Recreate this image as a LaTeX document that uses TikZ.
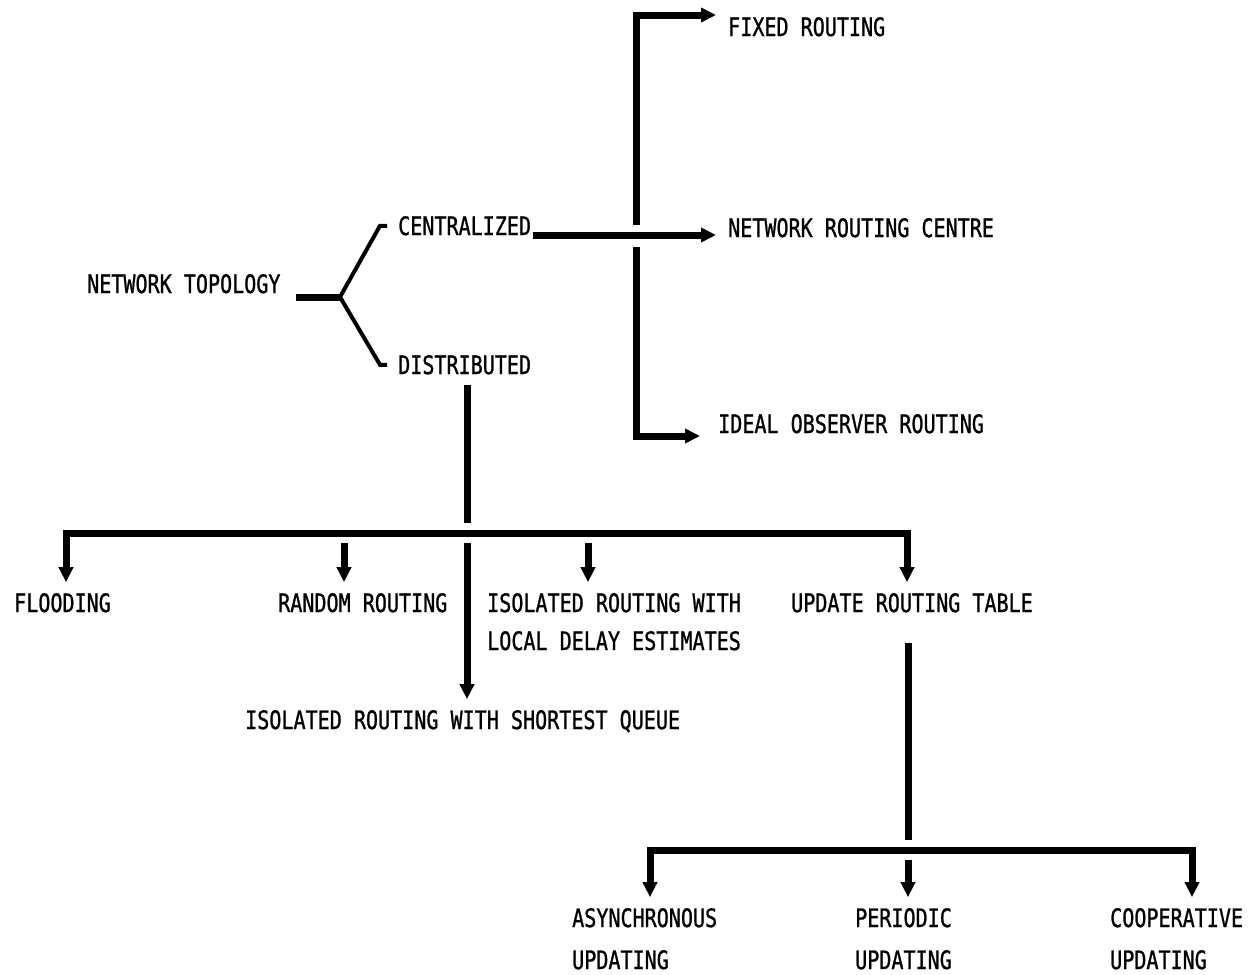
\documentclass[tikz,border=0pt]{standalone}
\usepackage{fontspec}
\newfontfamily\lblfont[FakeStretch=0.79,FakeBold=1]{DejaVu Sans Mono}
\usetikzlibrary{arrows.meta}

\begin{document}
\begin{tikzpicture}[x=1pt,y=-1pt]
  \tikzstyle{lab}=[font=\lblfont\fontsize{25.4}{38}\selectfont,inner sep=0pt,outer ysep=11pt,anchor=base west,align=left]
  \tikzstyle{ln}=[line width=4pt]
  \tikzstyle{bar}=[line width=7pt]
  \tikzstyle{arr}=[bar,-{Triangle[length=15pt,width=14pt]}]
  \tikzstyle{arrs}=[bar,{Triangle[length=15pt,width=14pt]}-{Triangle[length=15pt,width=14pt]}]
  \useasboundingbox (0,0) rectangle (1251,975);
  % Textes (base = derniere ligne)
  \node[lab] (topo)   at (87,293)   {NETWORK TOPOLOGY};
  \node[lab] (cent)   at (398,235)  {CENTRALIZED};
  \node[lab] (dist)   at (398,374)  {DISTRIBUTED};
  \node[lab] (fixed)  at (728,36)   {FIXED ROUTING};
  \node[lab] (nrc)    at (728,237)  {NETWORK ROUTING CENTRE};
  \node[lab] (ideal)  at (718,433)  {IDEAL OBSERVER ROUTING};
  \node[lab] (flood)  at (14,612)   {FLOODING};
  \node[lab] (random) at (278,612)  {RANDOM ROUTING};
  \node[lab] (local)  at (487,650)  {ISOLATED ROUTING WITH\\LOCAL DELAY ESTIMATES};
  \node[lab] (update) at (791,612)  {UPDATE ROUTING TABLE};
  \node[lab] (queue)  at (245,729)  {ISOLATED ROUTING WITH SHORTEST QUEUE};
  \node[lab] (async)  at (572,969)  {ASYNCHRONOUS\\[4pt]UPDATING};
  \node[lab] (period) at (855,969)  {PERIODIC\\[4pt]UPDATING};
  \node[lab] (coop)   at (1110,969) {COOPERATIVE\\[4pt]UPDATING};
  % Jonctions
  \coordinate (fork)  at (340,297);   % fourche
  \coordinate (cross) at (636,236);   % croisement
  \coordinate (top)   at (636,15);
  \coordinate (bot)   at (636,436);
  \coordinate (b1)    at (467,533);   % bus du haut
  \coordinate (bl)    at (66,533);
  \coordinate (br)    at (907,533);
  \coordinate (jr)    at (344,533);
  \coordinate (jl)    at (588,533);
  \coordinate (b2)    at (908,850);   % bus du bas
  \coordinate (al)    at (650,850);
  \coordinate (ar)    at (1192,850);
  % Fourche
  \draw[bar] ([xshift=15pt]topo.east |- fork) -- (fork);
  \draw[ln] ([xshift=-11pt]cent.west) -- ++(-7,0) -- (fork) -- ([xshift=-18pt]dist.west) -- ++(7,0);
  % Centralise
  \draw[arr,shorten >=12pt] ([xshift=2pt]cent.base east) -- (cent.base east -| nrc.west);
  \draw[arr,shorten >=12pt] ([yshift=11pt]cross) -- (top) -- (top -| fixed.west);
  \draw[arr,shorten >=18pt] ([yshift=-11pt]cross) -- (bot) -- (bot -| ideal.west);
  % Distribue
  \draw[bar] (dist.south -| b1) -- ([yshift=10pt]b1);
  \draw[arr] ([yshift=-10pt]b1) -- (b1 |- queue.north);
  \draw[arrs] (bl |- flood.north) -- (bl) -- (br) -- (br |- update.north);
  \draw[arr] ([yshift=-10pt]jr) -- (jr |- random.north);
  \draw[arr] ([yshift=-10pt]jl) -- (jl |- local.north);
  % Mise a jour
  \draw[bar] ([yshift=-20pt]update.south -| b2) -- ([yshift=10pt]b2);
  \draw[arrs] (al |- async.north) -- (al) -- (ar) -- (ar |- coop.north);
  \draw[arr] ([yshift=-10pt]b2) -- (b2 |- period.north);
\end{tikzpicture}
\end{document}
